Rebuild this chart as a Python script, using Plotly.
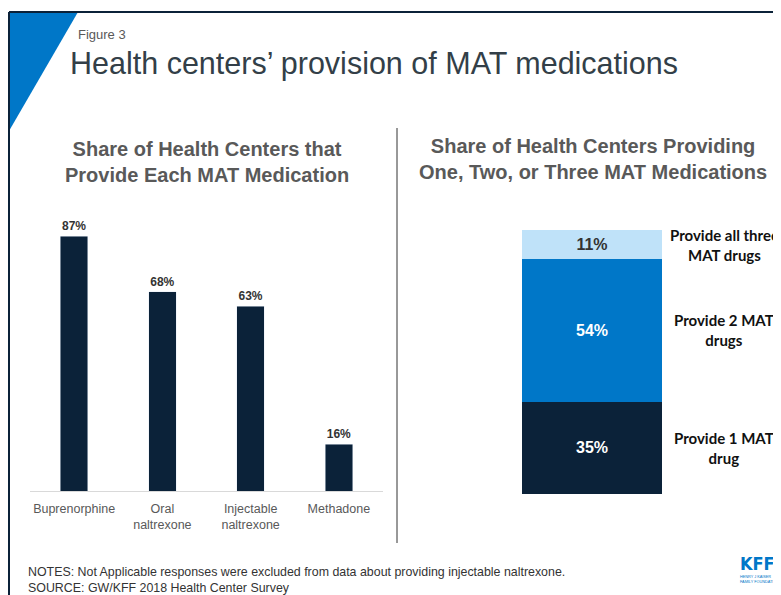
"""Figure 3: Health centers' provision of MAT medications."""

import plotly.graph_objects as go

# the page body keeps an 8px margin, so the figure is drawn 8px in from the corner
OFF = 8
W, H = 781 - OFF, 595 - OFF

NAVY = "#0b2239"
BLUE = "#0077c8"
LIGHT_BLUE = "#bfe2f9"
GREY_TXT = "#595959"

# left panel data
medications = ["Buprenorphine", "Oral<br>naltrexone", "Injectable<br>naltrexone", "Methadone"]
share_each = [87, 68, 63, 16]

# right panel data (stacked, bottom to top)
stack_labels = ["Provide 1 MAT<br>drug", "Provide 2 MAT<br>drugs", "Provide all three<br>MAT drugs"]
stack_values = [35, 54, 11]
stack_colors = [NAVY, BLUE, LIGHT_BLUE]
stack_text_colors = ["white", "white", "#333333"]


def px_x(x):
    return (x - OFF) / W


def px_y(y):
    return 1 - (y - OFF) / H


fig = go.Figure()

fig.add_trace(
    go.Bar(
        x=medications,
        y=share_each,
        marker_color=NAVY,
        width=0.31,
        text=[f"<b>{v}%</b>" for v in share_each],
        textposition="outside",
        textfont=dict(family="Liberation Sans", size=12, color="#333333"),
        cliponaxis=False,
        xaxis="x",
        yaxis="y",
        showlegend=False,
    )
)

base = 0
for lab, val, col, tcol in zip(stack_labels, stack_values, stack_colors, stack_text_colors):
    fig.add_trace(
        go.Bar(
            x=[0],
            y=[val],
            marker=dict(color=col, line=dict(width=0)),
            width=1,
            text=[f"<b>{val}%</b>"],
            textposition="inside",
            insidetextanchor="middle",
            textangle=0,
            textfont=dict(family="Liberation Sans", size=16, color=tcol),
            xaxis="x2",
            yaxis="y2",
            showlegend=False,
        )
    )
    fig.add_annotation(
        x=px_x(724), xref="paper", y=base + val / 2, yref="y2",
        text=f"<b>{lab}</b>", showarrow=False, xanchor="center", yanchor="middle",
        font=dict(family="Lato", size=15, color="#111111"), align="center",
    )
    base += val

fig.update_layout(
    width=W,
    height=H,
    margin=dict(l=0, r=0, t=0, b=0),
    paper_bgcolor="white",
    plot_bgcolor="white",
    barmode="stack",
    xaxis=dict(
        domain=[px_x(30), px_x(383)],
        showline=True, linecolor="#d9d9d9", linewidth=1,
        ticks="", showgrid=False, ticklabelstandoff=6,
        tickfont=dict(family="Liberation Sans", size=12.5, color=GREY_TXT),
    ),
    yaxis=dict(
        domain=[px_y(491), px_y(198)],
        range=[0, 100], visible=False, showgrid=False,
    ),
    xaxis2=dict(
        domain=[px_x(522), px_x(662)],
        range=[-0.5, 0.5], visible=False, anchor="y2",
    ),
    yaxis2=dict(
        domain=[px_y(494), px_y(230)],
        range=[0, 100], visible=False, anchor="x2",
    ),
)

# frame, corner triangle, divider
fig.add_shape(type="path", xref="paper", yref="paper",
              path=f"M {px_x(9)} {px_y(12)} L {px_x(78)} {px_y(12)} L {px_x(9)} {px_y(131)} Z",
              fillcolor=BLUE, line=dict(width=0))
fig.add_shape(type="line", xref="paper", yref="paper",
              x0=px_x(9), y0=px_y(12), x1=1, y1=px_y(12), line=dict(color=NAVY, width=2))
fig.add_shape(type="line", xref="paper", yref="paper",
              x0=px_x(9), y0=px_y(12), x1=px_x(9), y1=0, line=dict(color=NAVY, width=2))
fig.add_shape(type="line", xref="paper", yref="paper",
              x0=px_x(397), y0=px_y(128), x1=px_x(397), y1=px_y(543),
              line=dict(color="#333333", width=1))

texts = [
    dict(x=76, y=34, text="Figure 3", size=13, color=GREY_TXT, anchor="left"),
    dict(x=68, y=64, text="Health centers’ provision of MAT medications", size=30.5, color="#333f48",
         anchor="left"),
    dict(x=207, y=162, text="<b>Share of Health Centers that<br>Provide Each MAT Medication</b>", size=20,
         color=GREY_TXT, anchor="center"),
    dict(x=593, y=159, text="<b>Share of Health Centers Providing<br>One, Two, or Three MAT Medications</b>",
         size=20, color=GREY_TXT, anchor="center"),
    dict(x=26, y=580, text="NOTES: Not Applicable responses were excluded from data about providing injectable "
         "naltrexone.<br>SOURCE: GW/KFF 2018 Health Center Survey", size=12.4, color="#333333",
         anchor="left"),
]
for t in texts:
    fig.add_annotation(
        x=px_x(t["x"]), y=px_y(t["y"]), xref="paper", yref="paper", text=t["text"],
        showarrow=False, xanchor=t["anchor"], yanchor="middle", align=t["anchor"],
        font=dict(family="Liberation Sans", size=t["size"], color=t["color"]),
    )

# KFF logo
fig.add_annotation(x=px_x(738), y=px_y(563), xref="paper", yref="paper", text="<b>KFF</b>",
                   showarrow=False, xanchor="left", yanchor="middle",
                   font=dict(family="DejaVu Sans Condensed", size=18, color=BLUE))
fig.add_annotation(x=px_x(738), y=px_y(579), xref="paper", yref="paper",
                   text="HENRY J KAISER<br>FAMILY FOUNDATION", showarrow=False,
                   xanchor="left", yanchor="middle", align="left",
                   font=dict(family="Liberation Sans", size=3.8, color=BLUE))

fig.write_html("out.html")
